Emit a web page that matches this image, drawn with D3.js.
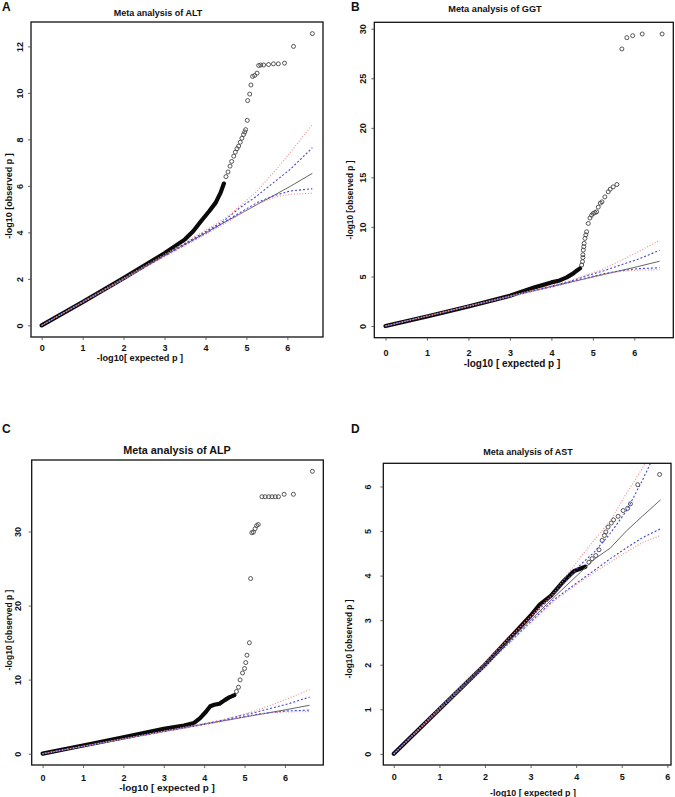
<!DOCTYPE html>
<html>
<head>
<meta charset="utf-8">
<script src="https://cdn.jsdelivr.net/npm/d3@7/dist/d3.min.js"></script>
<style>
body { margin: 0; background: #fff; }
text { font-family: "Liberation Sans", Arial, sans-serif; font-weight: bold; fill: #111; }
</style>
</head>
<body>
<script>
// expected-p grid and bands shared by ALT, GGT, ALP (same SNP count)
var ciX      = [0, 3, 4.05, 4.45, 4.85, 5.26, 5.66, 6.07, 6.61];
var ciMid    = [0, 3, 4.03, 4.42, 4.80, 5.20, 5.58, 5.98, 6.54];
var ciBlueHi = [0, 3.02, 4.08, 4.50, 5.07, 5.57, 6.14, 6.71, 7.64];
var ciBlueLo = [0, 2.98, 4.00, 4.43, 4.86, 5.28, 5.57, 5.78, 5.88];
var ciRedHi  = [0, 3.05, 4.14, 4.57, 5.14, 5.78, 6.57, 7.43, 8.64];
var ciRedLo  = [0, 2.95, 3.96, 4.35, 4.79, 5.21, 5.50, 5.64, 5.68];

// AST has fewer SNPs
var astCiX      = [0, 3.5, 4.1, 4.4, 4.75, 5.1, 5.45, 5.85];
var astCiMid    = [0, 3.5, 4.08, 4.37, 4.62, 5.00, 5.33, 5.70];
var astCiBlueHi = [0, 3.56, 4.25, 4.53, 4.95, 5.45, 6.13, 7.00];
var astCiBlueLo = [0, 3.45, 3.90, 4.12, 4.38, 4.62, 4.85, 5.05];
var astCiRedHi  = [0, 3.60, 4.42, 4.80, 5.23, 5.84, 6.40, 7.20];
var astCiRedLo  = [0, 3.42, 3.87, 4.07, 4.30, 4.53, 4.74, 4.90];

// observed -log10 p : dense part (drawn as a band) and the sparse tail
var altDense = [[0,0],[1,1.0],[2,2.03],[3,3.1],[3.5,3.7],[3.7,4.05],[3.9,4.5],[4.1,4.93],[4.25,5.28],[4.37,5.71],[4.45,6.1]];
var altTail = [[4.5,6.4],[4.55,6.6],[4.6,6.85],[4.64,7.05],[4.69,7.28],[4.73,7.45],[4.77,7.6],[4.81,7.71],[4.85,7.88],
  [4.89,8.05],[4.93,8.21],[4.96,8.32],[4.98,8.42],[5.02,8.82],[5.03,9.67],[5.08,9.95],[5.11,10.34],[5.15,10.71],
  [5.2,10.75],[5.26,10.85],[5.3,11.18],[5.35,11.2],[5.42,11.2],[5.54,11.22],[5.66,11.25],[5.78,11.25],[5.93,11.28],
  [6.15,12.0],[6.61,12.55]];

var ggtDense = [[0,0],[1,0.96],[2,1.97],[3,3.05],[3.6,3.9],[4.0,4.4],[4.2,4.6],[4.37,4.91],[4.53,5.31],[4.61,5.58],[4.69,5.82]];
var ggtTail = [[4.73,6.15],[4.75,6.5],[4.76,6.9],[4.76,7.2],[4.77,7.66],[4.78,8.0],[4.79,8.34],[4.81,8.84],[4.83,9.2],
  [4.85,9.51],[4.89,10.35],[4.93,10.9],[4.97,11.19],[5.01,11.36],[5.05,11.45],[5.09,11.52],[5.13,12.0],[5.18,12.4],
  [5.22,12.53],[5.29,13.03],[5.37,13.54],[5.42,13.81],[5.49,14.04],[5.58,14.28],[5.70,27.96],[5.82,29.1],[5.96,29.3],
  [6.19,29.47],[6.67,29.47]];

var alpDense = [[0,0],[1,1.1],[2,2.2],[3,3.35],[3.5,3.8],[3.75,4.15],[3.9,4.8],[4.05,5.7],[4.15,6.4],[4.25,6.6],[4.38,6.75],[4.5,7.2],[4.62,7.6],[4.75,7.9]];
var alpTail = [[4.8,8.4],[4.85,8.97],[4.89,9.96],[4.95,10.9],[5.0,11.5],[5.03,12.3],[5.06,13.3],[5.12,14.98],[5.15,23.65],
  [5.18,29.84],[5.22,29.92],[5.26,30.38],[5.3,30.8],[5.34,30.95],[5.43,34.7],[5.51,34.7],[5.6,34.7],[5.68,34.7],
  [5.76,34.7],[5.84,34.7],[5.98,35.03],[6.21,35.03],[6.68,38.13]];

var astDense = [[0,0],[1,1.0],[2,2.0],[2.5,2.55],[3,3.1],[3.2,3.35],[3.45,3.55],[3.7,3.85],[3.85,4.0],[3.95,4.1],[4.1,4.16],[4.2,4.2]];
var astTail = [[4.28,4.3],[4.35,4.38],[4.43,4.45],[4.5,4.58],[4.57,4.79],[4.62,4.9],[4.65,4.98],[4.7,5.09],[4.77,5.18],
  [4.82,5.25],[4.92,5.33],[5.03,5.46],[5.13,5.51],[5.19,5.61],[5.35,6.04],[5.83,6.27]];

var xTicks = [0, 1, 2, 3, 4, 5, 6];
var altYTicks = [0, 2, 4, 6, 8, 10, 12];
var ggtYTicks = [0, 5, 10, 15, 20, 25, 30];
var alpYTicks = [0, 10, 20, 30];
var astYTicks = [0, 1, 2, 3, 4, 5, 6];

var abcBands = [ciMid, ciBlueHi, ciBlueLo, ciRedHi, ciRedLo];
var astBands = [astCiMid, astCiBlueHi, astCiBlueLo, astCiRedHi, astCiRedLo];

var panels = [
	{letter: "A", title: "Meta analysis of ALT", box: [31, 22, 323, 337], xDom: [-0.26, 6.87], yDom: [-0.5, 13.05],
	 yTicks: altYTicks, dense: altDense, tail: altTail, bx: ciX, bands: abcBands,
	 letterPos: [2, 11], titlePos: [158, 15.5, 9], xLab: "-log10[ expected p ]", xLabPos: [140, 361, 9.2],
	 yLabPos: [9, 196, 9], xTickOff: 11, yTickOff: 11},
	{letter: "B", title: "Meta analysis of GGT", box: [374.3, 22.3, 673.3, 337.7], xDom: [-0.27, 6.94], yDom: [-1.18, 30.65],
	 yTicks: ggtYTicks, dense: ggtDense, tail: ggtTail, bx: ciX, bands: abcBands,
	 letterPos: [351, 11], titlePos: [495, 11.5, 9.2], xLab: "-log10 [ expected p ]", xLabPos: [512, 366.5, 10],
	 yLabPos: [350, 200, 8.3], xTickOff: 15, yTickOff: 11},
	{letter: "C", title: "Meta analysis of ALP", box: [31.7, 460, 323.3, 765], xDom: [-0.27, 6.95], yDom: [-1.53, 39.66],
	 yTicks: alpYTicks, dense: alpDense, tail: alpTail, bx: ciX, bands: abcBands,
	 letterPos: [2, 433], titlePos: [177, 453.5, 10.8], xLab: "-log10 [ expected p ]", xLabPos: [167, 791, 9.9],
	 yLabPos: [9, 630, 8.5], xTickOff: 13, yTickOff: 14},
	{letter: "D", title: "Meta analysis of AST", box: [383.3, 463.3, 671, 765], xDom: [-0.23, 6.08], yDom: [-0.25, 6.52],
	 yTicks: astYTicks, dense: astDense, tail: astTail, bx: astCiX, bands: astBands,
	 letterPos: [351, 433], titlePos: [528, 455, 9], xLab: "-log10 [ expected p ]", xLabPos: [533, 796, 8.9],
	 yLabPos: [349, 639, 8.3], xTickOff: 12, yTickOff: 15}
];

var bandStyle = [
	{color: "#666666", dash: null, width: 1},
	{color: "#4444d8", dash: "2,2", width: 1.1},
	{color: "#4444d8", dash: "2,2", width: 1.1},
	{color: "#ee8a8a", dash: "1,1.8", width: 1.1},
	{color: "#ee8a8a", dash: "1,1.8", width: 1.1}
];

var svg = d3.select("body")
	.append("svg")
	.attr("width", 675)
	.attr("height", 797);

svg.append("rect").attr("width", 675).attr("height", 797).attr("fill", "#fff");

panels.forEach(drawPanel);

function drawPanel(p) {
	var x = d3.scaleLinear().domain(p.xDom).range([p.box[0], p.box[2]]);
	var y = d3.scaleLinear().domain(p.yDom).range([p.box[3], p.box[1]]);
	var w = p.box[2] - p.box[0];
	var h = p.box[3] - p.box[1];

	var g = svg.append("g").attr("class", "panel");

	svg.append("clipPath")
		.attr("id", "clip" + p.letter)
		.append("rect")
		.attr("x", p.box[0]).attr("y", p.box[1])
		.attr("width", w).attr("height", h);

	var plot = g.append("g").attr("clip-path", "url(#clip" + p.letter + ")");

	var line = d3.line()
		.x(function(d) { return x(d[0]); })
		.y(function(d) { return y(d[1]); });

	// dense part of the qq points
	plot.append("path")
		.attr("d", line(p.dense))
		.attr("fill", "none")
		.attr("stroke", "#0a0a0a")
		.attr("stroke-width", 4.2)
		.attr("stroke-linejoin", "round")
		.attr("stroke-linecap", "round");

	// tail points
	plot.selectAll("circle.pt")
		.data(p.tail)
		.enter()
		.append("circle")
		.attr("class", "pt")
		.attr("cx", function(d) { return x(d[0]); })
		.attr("cy", function(d) { return y(d[1]); })
		.attr("r", 2)
		.attr("fill", "none")
		.attr("stroke", "#444")
		.attr("stroke-width", 0.9);

	// expected line and confidence bands
	p.bands.forEach(function(vals, i) {
		var s = bandStyle[i];
		plot.append("path")
			.attr("d", line(d3.zip(p.bx, vals)))
			.attr("fill", "none")
			.attr("stroke", s.color)
			.attr("stroke-width", s.width)
			.attr("stroke-dasharray", s.dash);
	});

	// box
	g.append("rect")
		.attr("x", p.box[0]).attr("y", p.box[1])
		.attr("width", w).attr("height", h)
		.attr("fill", "none")
		.attr("stroke", "#111")
		.attr("stroke-width", 1.3);

	// axes
	var xAxis = g.append("g")
		.attr("transform", "translate(0," + p.box[3] + ")")
		.call(d3.axisBottom(x).tickValues(xTicks).tickSize(3).tickFormat(d3.format("d")));
	var yAxis = g.append("g")
		.attr("transform", "translate(" + p.box[0] + ",0)")
		.call(d3.axisLeft(y).tickValues(p.yTicks).tickSize(3).tickFormat(d3.format("d")));

	[xAxis, yAxis].forEach(function(a) {
		a.select(".domain").remove();
		a.attr("font-family", null).attr("font-size", null);
		a.selectAll("line").attr("stroke", "#444").attr("stroke-width", 0.8);
		a.selectAll("text").style("font-size", "9px").attr("fill", "#111");
	});

	xAxis.selectAll("text")
		.attr("y", p.xTickOff)
		.attr("dy", "0.35em");

	yAxis.selectAll("text")
		.attr("x", 0)
		.attr("dy", "0.35em")
		.attr("text-anchor", "middle")
		.attr("transform", "translate(" + (-p.yTickOff) + ",0) rotate(-90)");

	// labels
	g.append("text")
		.attr("x", p.letterPos[0]).attr("y", p.letterPos[1])
		.style("font-size", "12px")
		.text(p.letter);

	g.append("text")
		.attr("x", p.titlePos[0]).attr("y", p.titlePos[1])
		.attr("text-anchor", "middle")
		.style("font-size", p.titlePos[2] + "px")
		.text(p.title);

	g.append("text")
		.attr("x", p.xLabPos[0]).attr("y", p.xLabPos[1])
		.attr("text-anchor", "middle")
		.style("font-size", p.xLabPos[2] + "px")
		.text(p.xLab);

	g.append("text")
		.attr("transform", "translate(" + p.yLabPos[0] + "," + p.yLabPos[1] + ") rotate(-90)")
		.attr("dy", "0.35em")
		.attr("text-anchor", "middle")
		.style("font-size", p.yLabPos[2] + "px")
		.text("-log10 [observed p ]");
}
</script>
</body>
</html>
